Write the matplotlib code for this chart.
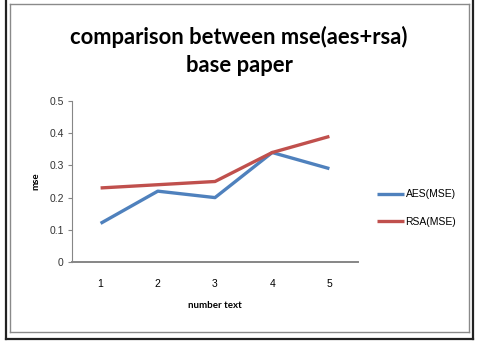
import matplotlib
matplotlib.use('Agg')
import matplotlib.pyplot as plt
from matplotlib.lines import Line2D

# chart data
categories = ['1', '2', '3', '4', '5']
aes_mse = [0.12, 0.22, 0.20, 0.34, 0.29]
rsa_mse = [0.23, 0.24, 0.25, 0.34, 0.39]
y_ticks = [0, 0.1, 0.2, 0.3, 0.4, 0.5]

W, H = 481, 347
fig = plt.figure(figsize=(W / 100, H / 100), dpi=100)
fig.patch.set_facecolor('white')

def fx(px):
    return px / W

def fy(py):
    return 1 - py / H

# outer dark frame (left, right, bottom only) and inner gray frame
for xs, ys in [([5.5, 5.5], [0, 339]), ([473, 473], [0, 339]), ([5.5, 473], [339, 339])]:
    fig.add_artist(Line2D([fx(v) for v in xs], [fy(v) for v in ys],
                          transform=fig.transFigure, color='#222222', linewidth=1.6))
for xs, ys in [([9.5, 9.5], [3.5, 332]), ([469, 469], [3.5, 332]),
               ([9.5, 469], [332, 332]), ([9.5, 469], [3.5, 3.5])]:
    fig.add_artist(Line2D([fx(v) for v in xs], [fy(v) for v in ys],
                          transform=fig.transFigure, color='#8a8a8a', linewidth=1.0))

ax = fig.add_axes([fx(72), fy(262), fx(358) - fx(72), fy(101) - fy(262)])
x = range(1, len(categories) + 1)
ax.plot(x, aes_mse, color='#4F81BD', linewidth=2.4, label='AES(MSE)',
        solid_capstyle='butt')
ax.plot(x, rsa_mse, color='#C0504D', linewidth=2.4, label='RSA(MSE)',
        solid_capstyle='butt')

ax.set_xlim(0.5, len(categories) + 0.5)
ax.set_ylim(0, 0.5)
ax.set_xticks(list(x))
ax.set_xticklabels(categories, fontsize=7.5, family='Liberation Sans')
ax.set_yticks(y_ticks)
ax.set_yticklabels(['0' if v == 0 else f'{v:.1f}' for v in y_ticks],
                   fontsize=7.5, family='Liberation Sans', color='#333333')
ax.tick_params(axis='x', length=0, pad=12)
ax.tick_params(axis='y', length=3, width=0.8, color='#868686', pad=3)

for side in ['top', 'right']:
    ax.spines[side].set_visible(False)
ax.spines['left'].set_color('#868686')
ax.spines['bottom'].set_color('#868686')
ax.spines['bottom'].set_linewidth(1.4)
ax.spines['left'].set_linewidth(0.8)

ax.set_xlabel('number text', fontsize=7, family='Lato', fontweight='bold', labelpad=9)
ax.set_ylabel('mse', fontsize=7, family='Lato', fontweight='bold', labelpad=6)

fig.text(fx(239), fy(37), 'comparison between mse(aes+rsa)', ha='center', va='center',
         fontsize=15.8, family='Lato', fontweight='bold', color='black')
fig.text(fx(239), fy(66), 'base paper', ha='center', va='center',
         fontsize=15.8, family='Lato', fontweight='bold', color='black')

ax.legend(loc='center left', bbox_to_anchor=(fx(368), fy(208)),
          bbox_transform=fig.transFigure, frameon=False,
          handlelength=2.6, handletextpad=0.1, labelspacing=1.7,
          prop={'family': 'Liberation Sans', 'size': 7.5})

fig.savefig('out.png', dpi=100, facecolor='white')
